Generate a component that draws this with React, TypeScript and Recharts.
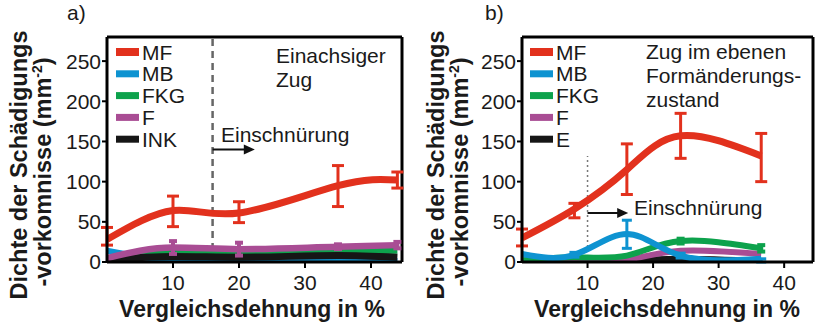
import React from 'react';
import { LineChart, Line, XAxis, YAxis, ErrorBar, ReferenceLine, Legend } from 'recharts';

const FONT = '"Liberation Sans", Arial, Helvetica, sans-serif';

const RED = '#E2311D';
const BLUE = '#0E93D1';
const GREEN = '#0DA24C';
const PURPLE = '#A94D94';
const BLACK = '#161616';

// ---- Panel a) Einachsiger Zug ----
const strainA = [0, 10, 20, 35, 44];
const mfA = [28, 64, 61, 95, 102];
const mfErrA = [[7, 15], [20, 18], [12, 14], [26, 25], [10, 10]];
const mbA = [14, 2, 0, 5, 1];
const fkgA = [4, 12, 12, 13, 14];
const fA = [5, 18, 16, 19, 21];
const fErrA = [null, [8, 8], [8, 8], [3, 3], [4, 4]];
const inkA = [3, 7, 6, 8, 6];

// ---- Panel b) Zug im ebenen Formänderungszustand ----
const strainB = [0, 8, 16, 24.2, 36.5];
const mfB = [30, 66, 115, 157, 132];
const mfErrB = [[10, 11], [11, 7], [31, 32], [28, 28], [32, 28]];
const mbB = [10, 9, 35, 8, 4];
const mbErrB = [null, [3, 3], [18, 17], [3, 3], [4, 0]];
const fkgB = [2, 6, 8, 26, 17];
const fkgErrB = [null, null, null, [3, 3], [4, 4]];
const fB = [0, 1, 3, 14, 10];
const eB = [2, 1, 2, 4, 1];

const yTicks = [0, 50, 100, 150, 200, 250];
const xTicks = [10, 20, 30, 40];
const legendA = ['MF', 'MB', 'FKG', 'F', 'INK'];
const legendB = ['MF', 'MB', 'FKG', 'F', 'E'];
const legendColors = [RED, BLUE, GREEN, PURPLE, BLACK];

const dataA = strainA.map((x, i) => ({
  x, MF: mfA[i], MFerr: mfErrA[i], MB: mbA[i], FKG: fkgA[i], F: fA[i], Ferr: fErrA[i], INK: inkA[i],
}));
const dataB = strainB.map((x, i) => ({
  x, MF: mfB[i], MFerr: mfErrB[i], MB: mbB[i], MBerr: mbErrB[i], FKG: fkgB[i], FKGerr: fkgErrB[i], F: fB[i], E: eB[i],
}));

const tickStyle = { fontSize: 21, fill: '#1a1a1a', fontFamily: FONT };

const Arrow = (props: any) => {
  const { x1, y1, x2, y2 } = props;
  return (
    <g>
      <line x1={x1} y1={y1} x2={x2 - 8} y2={y2} stroke="#111" strokeWidth={2} />
      <polygon points={`${x2},${y2} ${x2 - 11},${y2 - 5} ${x2 - 11},${y2 + 5}`} fill="#111" />
    </g>
  );
};

const makeLegend = (labels: string[]) => () => (
  <svg width={110} height={115} style={{ display: 'block' }}>
    {labels.map((l, i) => {
      const cy = 12 + i * 21.8;
      return (
        <g key={l}>
          <rect x={2} y={cy - (i === 0 ? 4 : 3.5)} width={23} height={i === 0 ? 8 : 7} fill={legendColors[i]} />
          <text x={28} y={cy + 7.5} fontSize={21} fontFamily={FONT} fill="#1a1a1a">{l}</text>
        </g>
      );
    })}
  </svg>
);

const axisLine = { stroke: '#000', strokeWidth: 3 };
const tickLine = { stroke: '#000', strokeWidth: 2 };

function PanelA() {
  return (
    <LineChart width={410} height={325} data={dataA} margin={{ top: 37, right: 8, bottom: 33, left: 47 }}>
      <XAxis type="number" dataKey="x" domain={[0, 44.7]} ticks={xTicks} interval={0} height={30}
        axisLine={axisLine} tickLine={tickLine} tickSize={6} tickMargin={7} tick={tickStyle} allowDataOverflow />
      <YAxis type="number" domain={[0, 280]} ticks={yTicks} interval={0} width={60}
        axisLine={axisLine} tickLine={tickLine} tickSize={5} tickMargin={1} tick={tickStyle} allowDataOverflow />
      <ReferenceLine y={280} stroke="#000" strokeWidth={3} />
      <ReferenceLine x={44.7} stroke="#000" strokeWidth={3} />
      <ReferenceLine x={16} stroke="#666" strokeWidth={2.5} strokeDasharray="7 5" />
      <ReferenceLine segment={[{ x: 16, y: 140 }, { x: 22.4, y: 140 }]} shape={Arrow} />
      <Line dataKey="MB" type="monotone" stroke={BLUE} strokeWidth={6} dot={false} isAnimationActive={false} />
      <Line dataKey="FKG" type="monotone" stroke={GREEN} strokeWidth={6} dot={false} isAnimationActive={false} />
      <Line dataKey="INK" type="monotone" stroke={BLACK} strokeWidth={7} dot={false} isAnimationActive={false} />
      <Line dataKey="F" type="monotone" stroke={PURPLE} strokeWidth={6.5} dot={false} isAnimationActive={false}>
        <ErrorBar dataKey="Ferr" direction="y" width={4} strokeWidth={4} stroke={PURPLE} />
      </Line>
      <Line dataKey="MF" type="natural" stroke={RED} strokeWidth={7} dot={false} isAnimationActive={false}>
        <ErrorBar dataKey="MFerr" direction="y" width={6} strokeWidth={3} stroke={RED} />
      </Line>
      <Legend layout="vertical" align="center" verticalAlign="middle" content={makeLegend(legendA)}
        wrapperStyle={{ left: 114, top: 40, width: 110, height: 115 }} />
    </LineChart>
  );
}

function PanelB() {
  return (
    <LineChart width={405} height={325} data={dataB} margin={{ top: 37, right: 2, bottom: 33, left: 52 }}>
      <XAxis type="number" dataKey="x" domain={[0, 44.4]} ticks={xTicks} interval={0} height={30}
        axisLine={axisLine} tickLine={tickLine} tickSize={6} tickMargin={7} tick={tickStyle} allowDataOverflow />
      <YAxis type="number" domain={[0, 280]} ticks={yTicks} interval={0} width={60}
        axisLine={axisLine} tickLine={tickLine} tickSize={5} tickMargin={1} tick={tickStyle} allowDataOverflow />
      <ReferenceLine y={280} stroke="#000" strokeWidth={3} />
      <ReferenceLine x={44.4} stroke="#000" strokeWidth={3} />
      <ReferenceLine segment={[{ x: 10, y: 0 }, { x: 10, y: 132 }]} stroke="#777" strokeWidth={1.5} strokeDasharray="2 3" />
      <ReferenceLine segment={[{ x: 10, y: 61 }, { x: 16.2, y: 61 }]} shape={Arrow} />
      <Line dataKey="E" type="monotone" stroke={BLACK} strokeWidth={6} dot={false} isAnimationActive={false} />
      <Line dataKey="F" type="natural" stroke={PURPLE} strokeWidth={6} dot={false} isAnimationActive={false} />
      <Line dataKey="FKG" type="natural" stroke={GREEN} strokeWidth={6} dot={false} isAnimationActive={false}>
        <ErrorBar dataKey="FKGerr" direction="y" width={4} strokeWidth={4} stroke={GREEN} />
      </Line>
      <Line dataKey="MB" type="natural" stroke={BLUE} strokeWidth={6} dot={false} isAnimationActive={false}>
        <ErrorBar dataKey="MBerr" direction="y" width={5} strokeWidth={3} stroke={BLUE} />
      </Line>
      <Line dataKey="MF" type="natural" stroke={RED} strokeWidth={7} dot={false} isAnimationActive={false}>
        <ErrorBar dataKey="MFerr" direction="y" width={6} strokeWidth={3} stroke={RED} />
      </Line>
      <Legend layout="vertical" align="center" verticalAlign="middle" content={makeLegend(legendB)}
        wrapperStyle={{ left: 118, top: 40, width: 110, height: 115 }} />
    </LineChart>
  );
}

function YLabel({ x1, x2 }: { x1: number; x2: number }) {
  return (
    <g fontFamily={FONT} fontWeight="bold" fontSize={23.5} fill="#1a1a1a" textAnchor="middle">
      <text transform={`translate(${x1},165) rotate(-90)`}>Dichte der Schädigungs</text>
      <text transform={`translate(${x2},172) rotate(-90)`}>
        -vorkomnisse (mm<tspan fontSize={14} dy={-9}>-2</tspan><tspan dy={9}>)</tspan>
      </text>
    </g>
  );
}

export default function App() {
  const txt = { fontFamily: FONT, fontSize: 21, fill: '#1a1a1a' };
  return (
    <div style={{ position: 'absolute', left: 0, top: 0, width: 815, height: 325, background: '#fff', overflow: 'hidden' }}>
      <div style={{ position: 'absolute', left: 0, top: 0 }}><PanelA /></div>
      <div style={{ position: 'absolute', left: 410, top: 0 }}><PanelB /></div>
      <svg width={815} height={325} style={{ position: 'absolute', left: 0, top: 0, pointerEvents: 'none' }}>
        <text x={67} y={20} {...txt}>a)</text>
        <text x={485} y={20} {...txt}>b)</text>
        <text x={276} y={63} {...txt}>Einachsiger</text>
        <text x={276} y={87} {...txt}>Zug</text>
        <text x={221} y={142} {...txt}>Einschnürung</text>
        <text x={646} y={59} {...txt}>Zug im ebenen</text>
        <text x={646} y={83} {...txt}>Formänderungs-</text>
        <text x={646} y={107} {...txt}>zustand</text>
        <text x={634} y={215} {...txt}>Einschnürung</text>
        <text x={252} y={317} fontFamily={FONT} fontWeight="bold" fontSize={23} fill="#1a1a1a" textAnchor="middle">Vergleichsdehnung in %</text>
        <text x={667} y={317} fontFamily={FONT} fontWeight="bold" fontSize={23} fill="#1a1a1a" textAnchor="middle">Vergleichsdehnung in %</text>
        <YLabel x1={27} x2={51} />
        <YLabel x1={444} x2={468} />
      </svg>
    </div>
  );
}
